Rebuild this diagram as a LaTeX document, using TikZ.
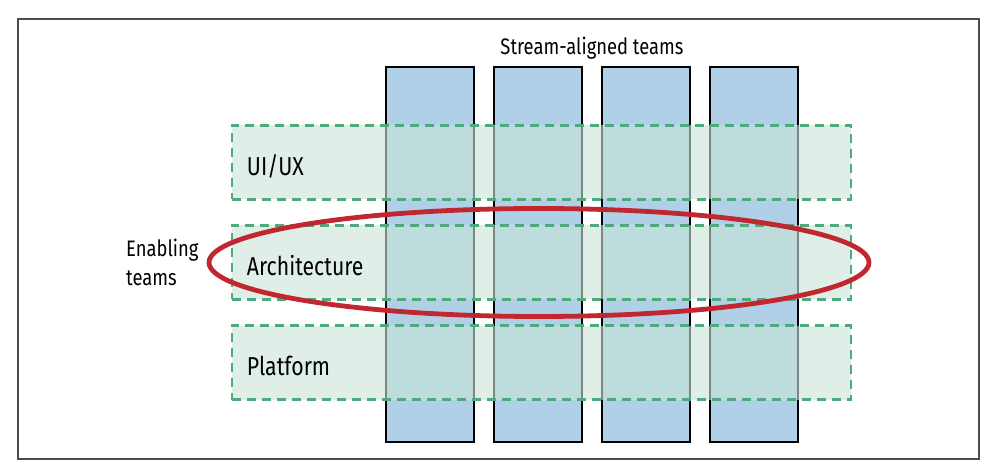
\documentclass[tikz,border=0pt]{standalone}
\usepackage{fontspec}
\setmainfont[FakeStretch=0.82]{Fira Sans}
\usetikzlibrary{positioning,shapes.geometric,calc}
\usepackage{xcolor}

\definecolor{streamblue}{RGB}{176,208,231}
\definecolor{bandgreen}{RGB}{202,228,215}
\definecolor{dashgreen}{RGB}{76,170,124}
\definecolor{ringred}{RGB}{193,39,46}

\begin{document}
\begin{tikzpicture}[
      x=1bp, y=-1bp,
      node distance=20bp, % gap between the columns
      stream/.style={rectangle, draw=black, line width=2.5bp, fill=streamblue, minimum width=88bp, minimum height=374.5bp, inner sep=0pt, outer sep=0pt},
      band/.style={rectangle, draw=dashgreen, dashed, dash pattern=on 9bp off 6bp, line width=2.6bp, fill=bandgreen, fill opacity=0.6, text opacity=1, minimum width=619bp, minimum height=74bp, text width=589bp, text height=26bp, text depth=0pt, inner xsep=15bp, outer sep=0pt, align=left, font=\fontsize{26}{31}\selectfont},
      ring/.style={ellipse, draw=ringred, line width=4.8bp, minimum width=660bp, minimum height=108bp, inner sep=0pt},
      caption/.style={inner sep=0pt, font=\fontsize{22.5}{29}\selectfont}
  ]
      \useasboundingbox (0,0) rectangle (990,470);
      \draw[black!70, line width=1.4bp] (18,19) rectangle (979,459);

      % Stream-aligned teams - four columns side by side
      \node (stream1) [stream] at (430,254.5) {};
      \node (stream2) [stream, right=of stream1] {};
      \node (stream3) [stream, right=of stream2] {};
      \node (stream4) [stream, right=of stream3] {};
      \node (streamlabel) [caption, above=8bp] at ($(stream2.north)!0.5!(stream3.north)$) {Stream-aligned teams};

      % Enabling teams - bands across the columns
      \node (uiux) [band] at (541.5,162.5) {UI/UX};
      \node (arch) [band, below=26bp of uiux] {Architecture};
      \node (platform) [band, below=26bp of arch] {Platform};

      % Highlight round the architecture band
      \node (focus) [ring] at ($(arch.center)+(-2.5,0)$) {};
      \node (enabling) [caption, align=left, left=8bp of focus.west] {Enabling\\teams};
  \end{tikzpicture}
\end{document}
